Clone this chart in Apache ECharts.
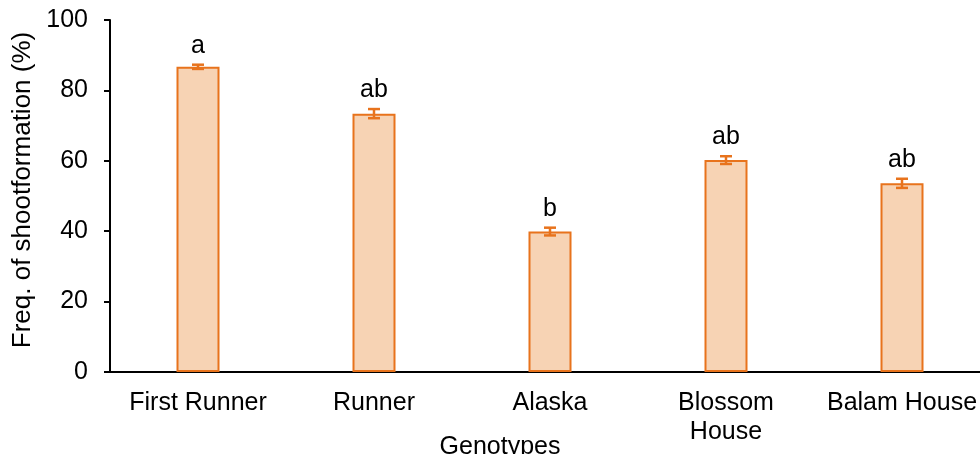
<!DOCTYPE html>
<html>
<head>
<meta charset="utf-8">
<script src="https://cdn.jsdelivr.net/npm/echarts@6/dist/echarts.min.js"></script>
<style>
  html, body { margin: 0; padding: 0; background: #fff; }
  #chart { width: 980px; height: 454px; }
</style>
</head>
<body>
<div id="chart"></div>
<script>
// 数据
const categories = ["First Runner", "Runner", "Alaska", "Blossom\nHouse", "Balam House"];
const means = [86.7, 73.4, 39.9, 60.2, 53.6];
const errors = [0.6, 1.3, 1.1, 1.1, 1.3];
const letters = ["a", "ab", "b", "ab", "ab"];
const yTicks = [0, 20, 40, 60, 80, 100];

const orange = "#e8731c";
const fill = "#f7d3b4";
const font = "Liberation Sans, Arial, sans-serif";

const errData = means.map((m, i) => [i, m, errors[i], letters[i]]);

const option = {
  animation: false,
  backgroundColor: "#fff",
  grid: { left: 110, top: 20, width: 880, height: 352, containLabel: false, outerBoundsMode: "none" },
  xAxis: {
    type: "category",
    data: categories,
    name: "Genotypes",
    nameLocation: "middle",
    nameGap: 63,
    nameMoveOverlap: false,
    nameTextStyle: { fontSize: 25, color: "#000", fontFamily: font, padding: [0, 100, 0, 0] },
    axisLine: { lineStyle: { color: "#000", width: 2 } },
    axisTick: { length: 6, lineStyle: { color: "#000", width: 2 } },
    axisLabel: { fontSize: 25, color: "#000", fontFamily: font, margin: 17, lineHeight: 29, interval: 0 }
  },
  yAxis: {
    type: "value",
    min: yTicks[0],
    max: yTicks[yTicks.length - 1],
    interval: 20,
    name: "Freq. of shootformation (%)",
    nameLocation: "middle",
    nameGap: 72,
    nameTextStyle: { fontSize: 26, color: "#000", fontFamily: font, padding: [0, 0, 0, 12] },
    axisLine: { show: true, lineStyle: { color: "#000", width: 2 } },
    axisTick: { show: true, length: 6, lineStyle: { color: "#000", width: 2 } },
    axisLabel: { fontSize: 25, color: "#000", fontFamily: font, margin: 22 },
    splitLine: { show: false }
  },
  series: [
    {
      type: "bar",
      data: means,
      barWidth: 43,
      itemStyle: { color: fill, borderColor: orange, borderWidth: 2 }
    },
    {
      // 误差线 + 显著性字母
      type: "custom",
      data: errData,
      z: 10,
      renderItem: function (params, api) {
        const x = api.coord([api.value(0), 0])[0];
        const top = api.coord([api.value(0), api.value(1) + api.value(2)])[1];
        const bot = api.coord([api.value(0), api.value(1) - api.value(2)])[1];
        const w = 6;
        const st = { stroke: orange, lineWidth: 2.5 };
        return {
          type: "group",
          children: [
            { type: "line", shape: { x1: x, y1: top, x2: x, y2: bot }, style: st },
            { type: "line", shape: { x1: x - w, y1: top, x2: x + w, y2: top }, style: st },
            { type: "line", shape: { x1: x - w, y1: bot, x2: x + w, y2: bot }, style: st },
            {
              type: "text",
              style: {
                text: api.value(3),
                x: x,
                y: top - 19,
                align: "center",
                verticalAlign: "middle",
                fontSize: 25,
                fontFamily: font,
                fill: "#000"
              }
            }
          ]
        };
      }
    }
  ]
};

const chart = echarts.init(document.getElementById("chart"));
chart.setOption(option);
</script>
</body>
</html>
